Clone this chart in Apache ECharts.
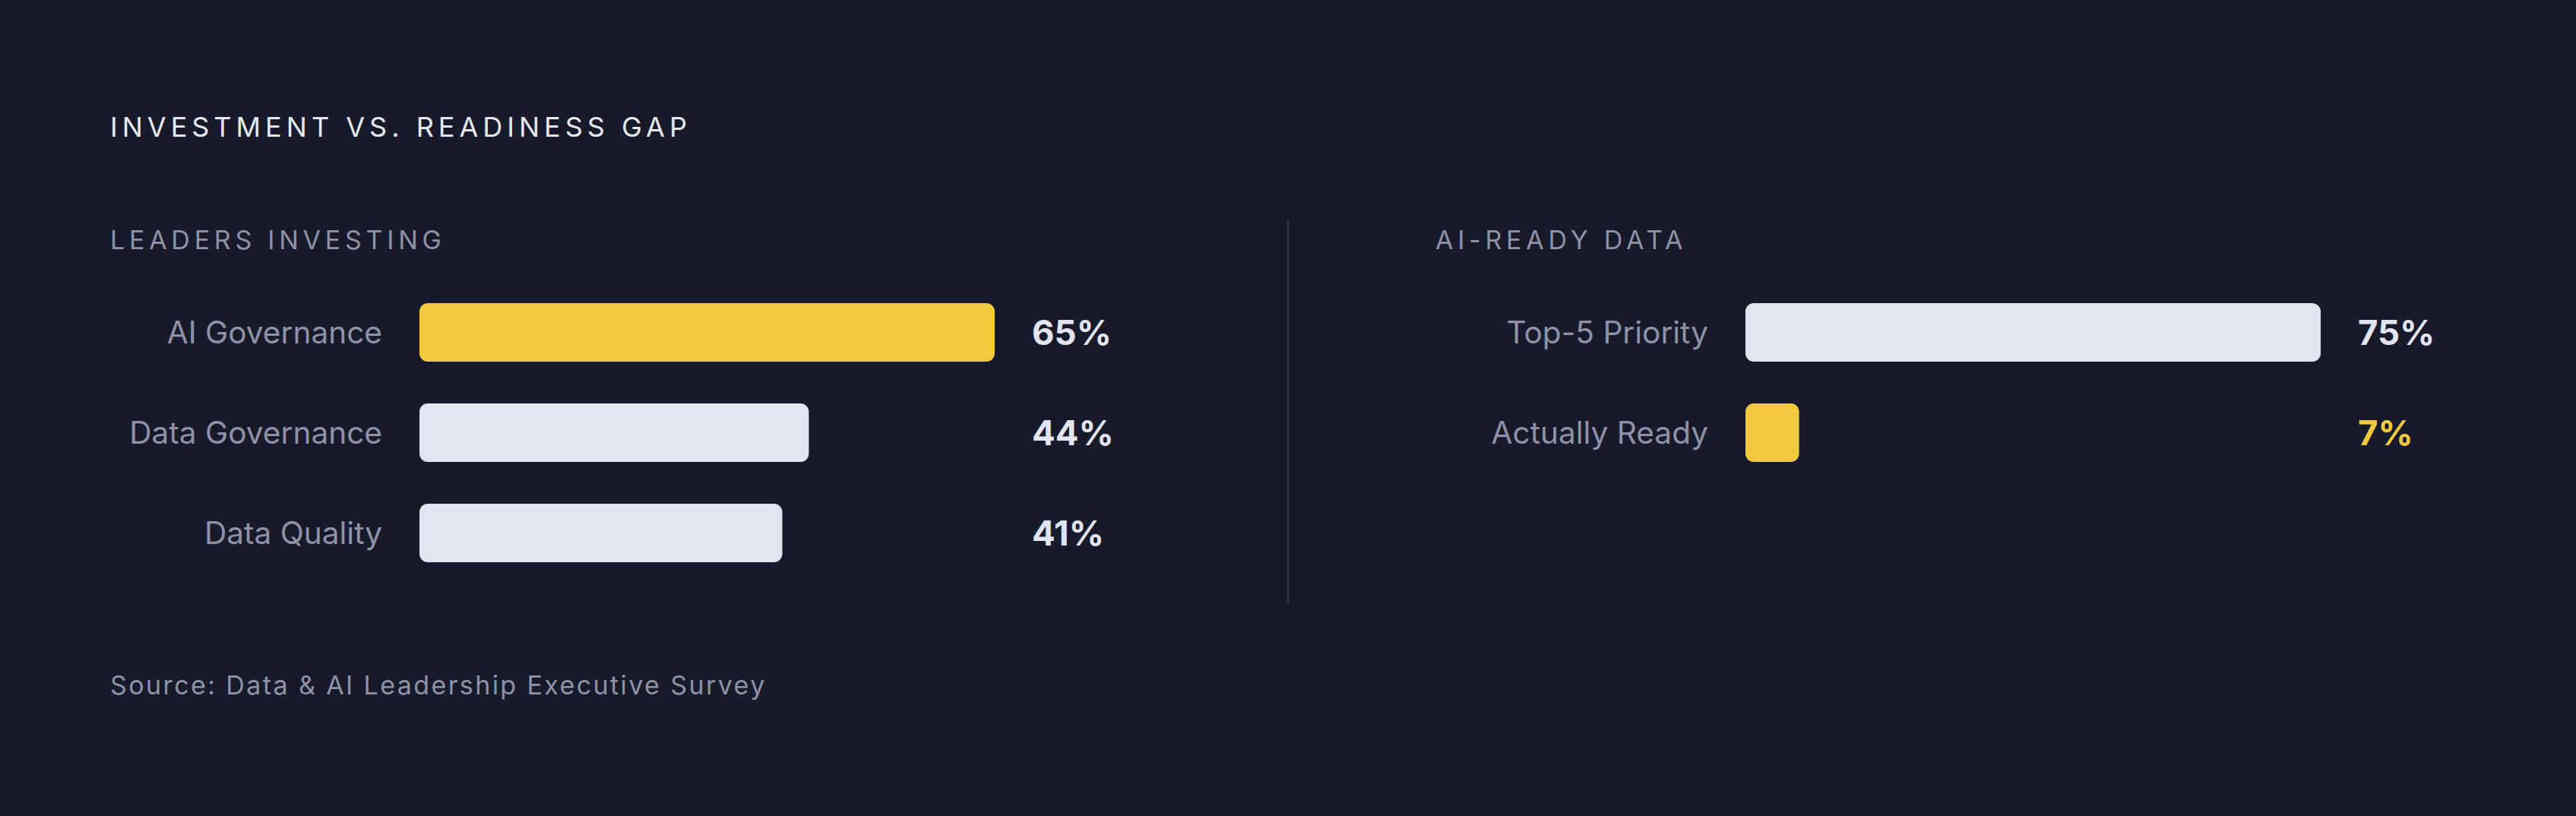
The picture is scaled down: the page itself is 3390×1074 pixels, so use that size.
<!DOCTYPE html>
<html>
<head>
    <meta charset="UTF-8">
    <title>Investment vs. Readiness Gap</title>
    <script src="https://cdn.jsdelivr.net/npm/echarts@6/dist/echarts.min.js"></script>
    <style>
        html, body {
            margin: 0;
            padding: 0;
            background: #171a2b;
        }
        #chart {
            width: 3390px;
            height: 1074px;
        }
    </style>
</head>
<body>
    <div id="chart"></div>

    <script>
        // texts
        var chartTitle = 'INVESTMENT VS. READINESS GAP';
        var leftTitle = 'LEADERS INVESTING';
        var rightTitle = 'AI-READY DATA';
        var sourceText = 'Source: Data & AI Leadership Executive Survey';

        // left panel
        var leftCats = ['AI Governance', 'Data Governance', 'Data Quality'];
        var leftVals = [65, 44, 41];
        var leftAccent = 0;

        // right panel
        var rightCats = ['Top-5 Priority', 'Actually Ready'];
        var rightVals = [75, 7];
        var rightAccent = 1;

        var BG = '#171a2b';
        var YELLOW = '#f0c93d';
        var LIGHT = '#e2e4f0';
        var MUTED = '#8f92a6';
        var FONT = 'Inter';

        // letter spacing per text (applied to svg text nodes after render)
        var spacing = {};
        spacing[chartTitle] = '6px';
        spacing[leftTitle] = '5.75px';
        spacing[rightTitle] = '5.75px';
        spacing[sourceText] = '2.4px';

        function barData(vals, accent, accentLabel) {
            return vals.map(function (v, i) {
                var item = { value: v, itemStyle: { color: i === accent ? YELLOW : LIGHT } };
                if (accentLabel && i === accent) item.label = { color: YELLOW };
                return item;
            });
        }

        function yAxisFor(idx, cats) {
            return {
                type: 'category',
                gridIndex: idx,
                data: cats,
                inverse: true,
                axisLine: { show: false },
                axisTick: { show: false },
                splitLine: { show: false },
                axisLabel: { color: MUTED, fontSize: 40.6, fontFamily: FONT, margin: 49 }
            };
        }

        function xAxisFor(idx, vals) {
            return {
                type: 'value',
                gridIndex: idx,
                min: 0,
                max: Math.max.apply(null, vals),
                show: false
            };
        }

        var valueLabel = {
            show: true,
            position: [806, '50%'],
            align: 'left',
            verticalAlign: 'middle',
            formatter: '{c}%',
            color: LIGHT,
            fontSize: 45.5,
            fontWeight: 700,
            fontFamily: FONT
        };

        var chart = echarts.init(document.getElementById('chart'), null, { renderer: 'svg' });

        chart.setOption({
            backgroundColor: BG,
            animation: false,
            textStyle: { fontFamily: FONT },
            grid: [
                { left: 552, top: 371.5, width: 757, height: 132 * leftCats.length },
                { left: 2297, top: 371.5, width: 757, height: 132 * rightCats.length }
            ],
            xAxis: [xAxisFor(0, leftVals), xAxisFor(1, rightVals)],
            yAxis: [yAxisFor(0, leftCats), yAxisFor(1, rightCats)],
            series: [
                {
                    type: 'bar',
                    xAxisIndex: 0,
                    yAxisIndex: 0,
                    barWidth: 77,
                    itemStyle: { borderRadius: 11 },
                    label: valueLabel,
                    data: barData(leftVals, leftAccent, false)
                },
                {
                    type: 'bar',
                    xAxisIndex: 1,
                    yAxisIndex: 1,
                    barWidth: 77,
                    itemStyle: { borderRadius: 11 },
                    label: valueLabel,
                    data: barData(rightVals, rightAccent, true)
                }
            ],
            graphic: [
                {
                    type: 'text', x: 145, y: 167,
                    style: { text: chartTitle, fill: '#e6e8f2', fontSize: 36, fontFamily: FONT, verticalAlign: 'middle' }
                },
                {
                    type: 'text', x: 145, y: 315.5,
                    style: { text: leftTitle, fill: MUTED, fontSize: 34, fontFamily: FONT, verticalAlign: 'middle' }
                },
                {
                    type: 'text', x: 1889, y: 315.5,
                    style: { text: rightTitle, fill: MUTED, fontSize: 34, fontFamily: FONT, verticalAlign: 'middle' }
                },
                {
                    type: 'text', x: 145, y: 901.5,
                    style: { text: sourceText, fill: MUTED, fontSize: 34, fontFamily: FONT, verticalAlign: 'middle' }
                },
                {
                    type: 'line',
                    shape: { x1: 1695, y1: 290, x2: 1695, y2: 794 },
                    style: { stroke: '#33364a', lineWidth: 2 }
                }
            ]
        });

        function applySpacing() {
            var nodes = document.querySelectorAll('#chart text');
            for (var i = 0; i < nodes.length; i++) {
                var s = spacing[nodes[i].textContent];
                if (s) nodes[i].style.letterSpacing = s;
            }
        }
        chart.on('finished', applySpacing);
        applySpacing();
    </script>
</body>
</html>
